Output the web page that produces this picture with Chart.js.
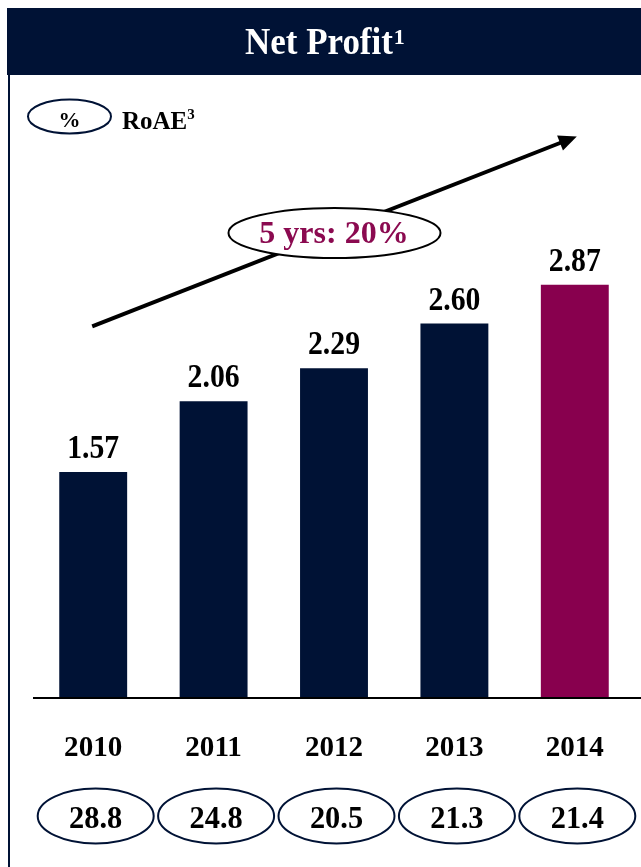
<!DOCTYPE html>
<html>
<head>
<meta charset="utf-8">
<script src="https://cdn.jsdelivr.net/npm/chart.js@4/dist/chart.umd.min.js"></script>
<style>
  html, body { margin: 0; padding: 0; background: #fff; }
  #wrap { width: 641px; height: 867px; position: relative; }
</style>
</head>
<body>
<div id="wrap"><canvas id="myChart" width="641" height="867"></canvas></div>
<script>
    // chart data
    var years = ['2010', '2011', '2012', '2013', '2014'];
    var net_profit = [1.57, 2.06, 2.29, 2.60, 2.87];
    var value_labels = ['1.57', '2.06', '2.29', '2.60', '2.87'];
    var roae = ['28.8', '24.8', '20.5', '21.3', '21.4'];
    var cagr_label = '5 yrs: 20%';

    var navy = '#001235';
    var plum = '#88004E';
    var serif = '"Liberation Serif", "Times New Roman", serif';

    function ellipse(ctx, cx, cy, rx, ry, color, lw) {
      ctx.beginPath();
      ctx.ellipse(cx, cy, rx, ry, 0, 0, Math.PI * 2);
      ctx.fillStyle = '#fff';
      ctx.fill();
      ctx.lineWidth = lw;
      ctx.strokeStyle = color;
      ctx.stroke();
    }

    // text squeezed horizontally (the original type is narrower than Liberation Serif)
    function squeezed(ctx, text, x, y, sx) {
      ctx.save();
      ctx.translate(x, y);
      ctx.scale(sx, 1);
      ctx.fillText(text, 0, 0);
      ctx.restore();
    }

    var decor = {
      id: 'decor',
      beforeDraw: function (chart) {
        var ctx = chart.ctx;
        ctx.save();
        ctx.fillStyle = '#fff';
        ctx.fillRect(0, 0, chart.width, chart.height);
        // header band
        ctx.fillStyle = navy;
        ctx.fillRect(7, 8, chart.width - 7, 67);
        // left border
        ctx.fillRect(8, 75, 2, chart.height - 75);
        // title
        ctx.fillStyle = '#fff';
        ctx.textBaseline = 'alphabetic';
        ctx.textAlign = 'left';
        ctx.font = 'bold 38px ' + serif;
        var w = ctx.measureText('Net Profit').width * 0.92;
        squeezed(ctx, 'Net Profit', 245, 54, 0.92);
        ctx.font = 'bold 22px ' + serif;
        ctx.fillText('1', 245 + w + 1, 44);
        // legend
        ellipse(ctx, 69.5, 116.5, 41.5, 17, navy, 2);
        ctx.fillStyle = '#000';
        ctx.textAlign = 'center';
        ctx.font = 'bold 22px ' + serif;
        ctx.fillText('%', 69.5, 127);
        ctx.textAlign = 'left';
        ctx.font = 'bold 25px ' + serif;
        ctx.fillText('RoAE', 122, 129);
        var rw = ctx.measureText('RoAE').width;
        ctx.font = 'bold 15px ' + serif;
        ctx.fillText('3', 122 + rw, 119);
        ctx.restore();
      },
      afterDatasetsDraw: function (chart) {
        var ctx = chart.ctx;
        var xs = chart.scales.x, ys = chart.scales.y;
        var area = chart.chartArea;
        ctx.save();
        // baseline
        ctx.strokeStyle = '#000';
        ctx.lineWidth = 2;
        ctx.beginPath();
        ctx.moveTo(area.left, ys.getPixelForValue(0));
        ctx.lineTo(chart.width, ys.getPixelForValue(0));
        ctx.stroke();
        // value labels
        ctx.fillStyle = '#000';
        ctx.textAlign = 'center';
        ctx.textBaseline = 'alphabetic';
        ctx.font = 'bold 33px ' + serif;
        net_profit.forEach(function (v, i) {
          squeezed(ctx, value_labels[i], xs.getPixelForValue(i), ys.getPixelForValue(v) - 14, 0.9);
        });
        // year labels
        ctx.font = 'bold 30px ' + serif;
        years.forEach(function (y, i) {
          squeezed(ctx, y, xs.getPixelForValue(i), 756, 0.97);
        });
        // RoAE ovals
        roae.forEach(function (r, i) {
          var cx = xs.getPixelForValue(i) + 2.5;
          ellipse(ctx, cx, 816, 58, 27.5, navy, 2);
          ctx.fillStyle = '#000';
          ctx.font = 'bold 32px ' + serif;
          squeezed(ctx, r, cx, 828, 0.95);
        });
        // growth arrow
        var ax0 = xs.getPixelForValue(0) - 1, ay0 = ys.getPixelForValue(2.58);
        var ax1 = xs.getPixelForValue(4) + 2, ay1 = ys.getPixelForValue(3.9);
        var ang = Math.atan2(ay1 - ay0, ax1 - ax0);
        ctx.strokeStyle = '#000';
        ctx.lineWidth = 4;
        ctx.beginPath();
        ctx.moveTo(ax0, ay0);
        ctx.lineTo(ax1 - 14 * Math.cos(ang), ay1 - 14 * Math.sin(ang));
        ctx.stroke();
        ctx.fillStyle = '#000';
        ctx.beginPath();
        ctx.moveTo(ax1, ay1);
        ctx.lineTo(ax1 - 18 * Math.cos(ang) + 8 * Math.sin(ang), ay1 - 18 * Math.sin(ang) - 8 * Math.cos(ang));
        ctx.lineTo(ax1 - 18 * Math.cos(ang) - 8 * Math.sin(ang), ay1 - 18 * Math.sin(ang) + 8 * Math.cos(ang));
        ctx.closePath();
        ctx.fill();
        // CAGR bubble
        ellipse(ctx, 334.5, 233, 106, 25, '#000', 2);
        ctx.fillStyle = '#8B0A50';
        ctx.font = 'bold 32px ' + serif;
        ctx.textAlign = 'center';
        ctx.fillText(cagr_label, 334, 243);
        ctx.restore();
      }
    };

    var ctx = document.getElementById('myChart');
    var myChart = new Chart(ctx, {
      type: 'bar',
      data: {
        labels: years,
        datasets: [{
          label: 'Net Profit',
          data: net_profit,
          backgroundColor: [navy, navy, navy, navy, plum],
          borderWidth: 0,
          barPercentage: 0.564,
          categoryPercentage: 1
        }]
      },
      options: {
        responsive: false,
        animation: false,
        layout: { padding: { left: 33, right: 6, top: 122, bottom: 169 } },
        plugins: { legend: { display: false }, tooltip: { enabled: false } },
        scales: {
          x: { display: false },
          y: { display: false, min: 0, max: 4 }
        }
      },
      plugins: [decor]
    });
</script>
</body>
</html>
